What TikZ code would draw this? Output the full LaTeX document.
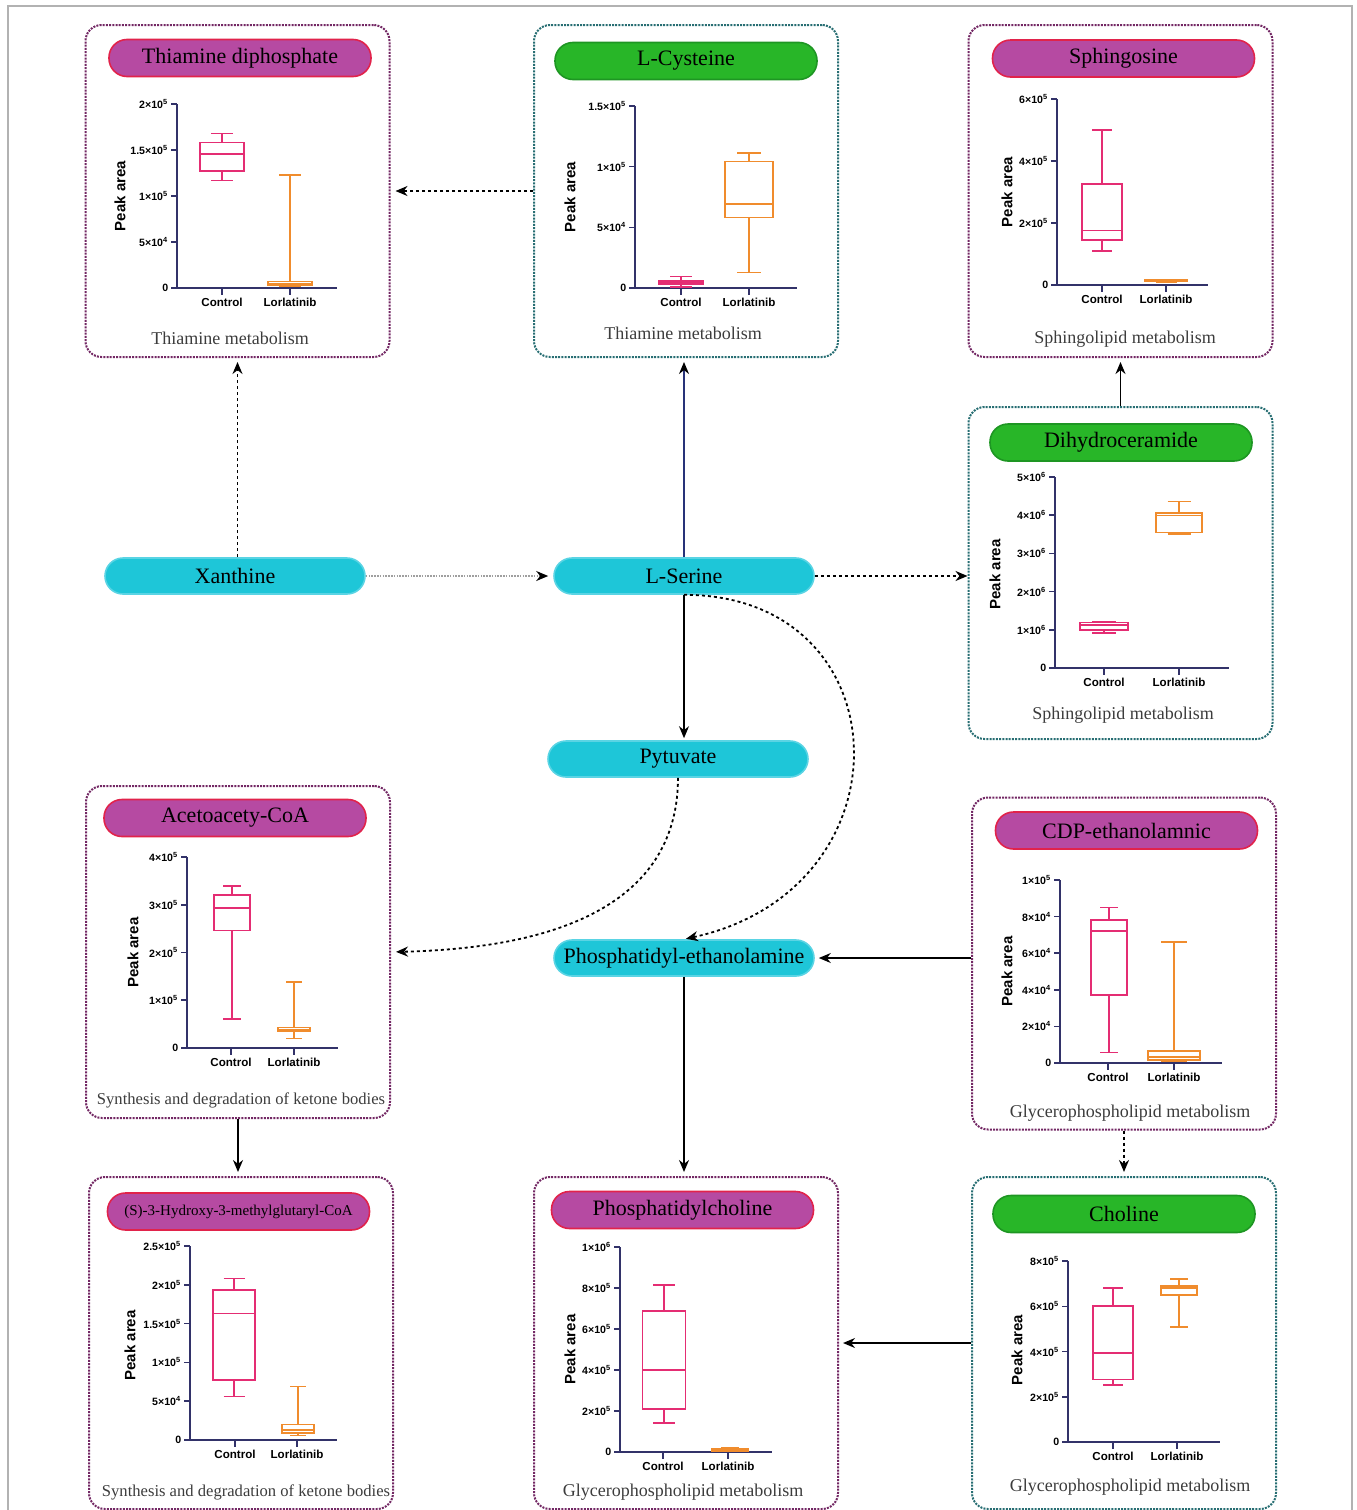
\documentclass[tikz,border=0pt]{standalone}
\usepackage{fontspec}
\setmainfont{Liberation Serif}
\newfontfamily\plotfont{Liberation Sans}
\usepackage{tikz}
\usetikzlibrary{arrows.meta}
\definecolor{magfill}{RGB}{182,74,162}
\definecolor{magline}{RGB}{225,35,75}
\definecolor{grnfill}{RGB}{40,182,40}
\definecolor{grnline}{RGB}{30,150,35}
\definecolor{cyanfill}{RGB}{30,198,216}
\definecolor{cyanline}{RGB}{90,212,228}
\definecolor{purpframe}{RGB}{115,40,100}
\definecolor{tealframe}{RGB}{40,110,115}
\definecolor{axiscol}{RGB}{50,50,105}
\definecolor{ctlcol}{RGB}{228,45,115}
\definecolor{lorcol}{RGB}{240,140,45}
\definecolor{subcol}{RGB}{60,60,60}
\definecolor{navyline}{RGB}{40,50,120}
\newcommand{\boxwhisk}[8]{\draw[#1] ({#2-#3},#5) rectangle ({#2+#3},#7) ({#2-#3},#6) -- ({#2+#3},#6) (#2,#7) -- (#2,#8) ({#2-#3/2},#8) -- ({#2+#3/2},#8) (#2,#5) -- (#2,#4) ({#2-#3/2},#4) -- ({#2+#3/2},#4);}

\begin{document}
\begin{tikzpicture}[x=0.5pt, y=-0.5pt,
  panelm/.style={draw=purpframe, dash pattern=on 1pt off 0.6pt, line width=1pt, rounded corners=8pt, minimum width=152pt, minimum height=166pt},
  panelg/.style={panelm, draw=tealframe},
  magpill/.style={draw=magline, fill=magfill, line width=0.8pt, rounded corners=9pt, minimum width=131pt, minimum height=18.5pt, font=\fontsize{11}{13}\selectfont},
  grnpill/.style={magpill, draw=grnline, fill=grnfill},
  metab/.style={draw=cyanline, fill=cyanfill, line width=0.8pt, rounded corners=9pt, minimum width=130pt, minimum height=18pt, font=\fontsize{11}{13}\selectfont},
  subtitle/.style={text=subcol, font=\fontsize{9}{11}\selectfont},
  ketone/.style={subtitle, font=\fontsize{8.3}{10}\selectfont},
  axline/.style={draw=axiscol, line width=0.8pt},
  ynum/.style={left, inner sep=1pt, text=black, font=\plotfont\bfseries\fontsize{5.3}{6}\selectfont},
  xcat/.style={below, inner sep=1.2pt, text=black, font=\plotfont\bfseries\fontsize{5.8}{7}\selectfont},
  ylab/.style={rotate=90, font=\plotfont\bfseries\fontsize{7.5}{9}\selectfont},
  ctl/.style={draw=ctlcol, line width=0.85pt},
  lor/.style={draw=lorcol, line width=0.85pt},
  flow/.style={-{Stealth[length=6pt,width=5pt,color=black]}, line width=0.7pt},
  dotflow/.style={flow, dash pattern=on 1.5pt off 1.5pt, line width=0.9pt},
]
\useasboundingbox (0,0) rectangle (1356,1510);
\draw[gray!60, line width=0.6pt] (8,1510) -- (8,6) -- (1352,6) -- (1352,1510);

\node[panelm] (p1) at (237.5,191) {};
\node[magpill] (t1) at (240,58) {Thiamine diphosphate};
\begin{scope}[shift={(177,288)}, y=46pt]
\draw[axline] (0,2) -- (0,0) -- (160,0);
\foreach \v/\t [count=\i] in {0/0, 0.5/5×10\textsuperscript{4}, 1/1×10\textsuperscript{5}, 1.5/1.5×10\textsuperscript{5}, 2/2×10\textsuperscript{5}}
  \draw[axline] (0,\v) -- ++(-3pt,0) node[ynum] (a1y\i) {\t};
\draw[axline] (45,0) -- ++(0,-3.5pt) node[xcat] (a1c) {Control};
\draw[axline] (113,0) -- ++(0,-3.5pt) node[xcat] (a1l) {Lorlatinib};
\node[ylab] (a1t) at (-57,1) {Peak area};
\boxwhisk{ctl}{45}{22}{1.17}{1.27}{1.46}{1.58}{1.68}
\boxwhisk{lor}{113}{22}{0.02}{0.03}{0.05}{0.07}{1.23}
\end{scope}
\node[subtitle] (s1) at (230,338) {Thiamine metabolism};

\node[panelg] (p2) at (686,191) {};
\node[grnpill] (t2) at (686,61) {L-Cysteine};
\begin{scope}[shift={(635,288)}, y=60.67pt]
\draw[axline] (0,1.5) -- (0,0) -- (162,0);
\foreach \v/\t [count=\i] in {0/0, 0.5/5×10\textsuperscript{4}, 1/1×10\textsuperscript{5}, 1.5/1.5×10\textsuperscript{5}}
  \draw[axline] (0,\v) -- ++(-3pt,0) node[ynum] (a2y\i) {\t};
\draw[axline] (46,0) -- ++(0,-3.5pt) node[xcat] (a2c) {Control};
\draw[axline] (114,0) -- ++(0,-3.5pt) node[xcat] (a2l) {Lorlatinib};
\node[ylab] (a2t) at (-65,0.75) {Peak area};
\boxwhisk{ctl}{46}{22}{0.01}{0.035}{0.05}{0.06}{0.095}
\boxwhisk{lor}{114}{24}{0.129}{0.581}{0.691}{1.042}{1.11}
\end{scope}
\node[subtitle] (s2) at (683,333) {Thiamine metabolism};

\node[panelm] (p3) at (1120.5,191) {};
\node[magpill] (t3) at (1123.5,58.5) {Sphingosine};
\begin{scope}[shift={(1057,285)}, y=15.5pt]
\draw[axline] (0,6) -- (0,0) -- (151,0);
\foreach \v/\t [count=\i] in {0/0, 2/2×10\textsuperscript{5}, 4/4×10\textsuperscript{5}, 6/6×10\textsuperscript{5}}
  \draw[axline] (0,\v) -- ++(-3pt,0) node[ynum] (a3y\i) {\t};
\draw[axline] (45,0) -- ++(0,-3.5pt) node[xcat] (a3c) {Control};
\draw[axline] (109,0) -- ++(0,-3.5pt) node[xcat] (a3l) {Lorlatinib};
\node[ylab] (a3t) at (-50,3) {Peak area};
\boxwhisk{ctl}{45}{20}{1.10}{1.45}{1.76}{3.26}{5.01}
\boxwhisk{lor}{109}{21}{0.1}{0.12}{0.14}{0.16}{0.17}
\end{scope}
\node[subtitle] (s3) at (1125,339) {Sphingolipid metabolism};

\node[panelg] (p4) at (1120.5,573) {};
\node[grnpill] (t4) at (1121,442.5) {Dihydroceramide};
\begin{scope}[shift={(1055,668)}, y=19.1pt]
\draw[axline] (0,5) -- (0,0) -- (174,0);
\foreach \v/\t [count=\i] in {0/0, 1/1×10\textsuperscript{6}, 2/2×10\textsuperscript{6}, 3/3×10\textsuperscript{6}, 4/4×10\textsuperscript{6}, 5/5×10\textsuperscript{6}}
  \draw[axline] (0,\v) -- ++(-3pt,0) node[ynum] (a4y\i) {\t};
\draw[axline] (49,0) -- ++(0,-3.5pt) node[xcat] (a4c) {Control};
\draw[axline] (124,0) -- ++(0,-3.5pt) node[xcat] (a4l) {Lorlatinib};
\node[ylab] (a4t) at (-60,2.45) {Peak area};
\boxwhisk{ctl}{49}{24}{0.92}{1.0}{1.12}{1.19}{1.2}
\boxwhisk{lor}{124}{23}{3.51}{3.55}{3.99}{4.06}{4.36}
\end{scope}
\node[subtitle] (s4) at (1123,715) {Sphingolipid metabolism};

\node[panelm] (p5) at (238,952) {};
\node[magpill] (t5) at (235,818) {Acetoacety-CoA};
\begin{scope}[shift={(187,1048)}, y=23.875pt]
\draw[axline] (0,4) -- (0,0) -- (151,0);
\foreach \v/\t [count=\i] in {0/0, 1/1×10\textsuperscript{5}, 2/2×10\textsuperscript{5}, 3/3×10\textsuperscript{5}, 4/4×10\textsuperscript{5}}
  \draw[axline] (0,\v) -- ++(-3pt,0) node[ynum] (a5y\i) {\t};
\draw[axline] (44,0) -- ++(0,-3.5pt) node[xcat] (a5c) {Control};
\draw[axline] (107,0) -- ++(0,-3.5pt) node[xcat] (a5l) {Lorlatinib};
\node[ylab] (a5t) at (-54,2) {Peak area};
\boxwhisk{ctl}{45}{18}{0.61}{2.46}{2.93}{3.21}{3.39}
\boxwhisk{lor}{107}{16}{0.2}{0.35}{0.38}{0.43}{1.38}
\end{scope}
\node[ketone] (s5) at (241,1100) {Synthesis and degradation of ketone bodies};

\node[panelm] (p6) at (1124,963.5) {};
\node[magpill] (t6) at (1126.5,830.5) {CDP-ethanolamnic};
\begin{scope}[shift={(1060,1063)}, y=9.15pt]
\draw[axline] (0,10) -- (0,0) -- (162,0);
\foreach \v/\t [count=\i] in {0/0, 2/2×10\textsuperscript{4}, 4/4×10\textsuperscript{4}, 6/6×10\textsuperscript{4}, 8/8×10\textsuperscript{4}, 10/1×10\textsuperscript{5}}
  \draw[axline] (0,\v) -- ++(-3pt,0) node[ynum] (a6y\i) {\t};
\draw[axline] (48,0) -- ++(0,-3.5pt) node[xcat] (a6c) {Control};
\draw[axline] (114,0) -- ++(0,-3.5pt) node[xcat] (a6l) {Lorlatinib};
\node[ylab] (a6t) at (-53,5) {Peak area};
\boxwhisk{ctl}{49}{18}{0.57}{3.7}{7.23}{7.81}{8.49}
\boxwhisk{lor}{114}{26}{0.1}{0.18}{0.33}{0.66}{6.62}
\end{scope}
\node[subtitle] (s6) at (1130,1113) {Glycerophospholipid metabolism};

\node[panelm] (p7) at (241,1343) {};
\node[magpill, font=\fontsize{7.5}{9}\selectfont] (t7) at (238.5,1211.5) {(S)-3-Hydroxy-3-methylglutaryl-CoA};
\begin{scope}[shift={(190,1440)}, y=38.8pt]
\draw[axline] (0,2.5) -- (0,0) -- (147,0);
\foreach \v/\t [count=\i] in {0/0, 0.5/5×10\textsuperscript{4}, 1/1×10\textsuperscript{5}, 1.5/1.5×10\textsuperscript{5}, 2/2×10\textsuperscript{5}, 2.5/2.5×10\textsuperscript{5}}
  \draw[axline] (0,\v) -- ++(-3pt,0) node[ynum] (a7y\i) {\t};
\draw[axline] (45,0) -- ++(0,-3.5pt) node[xcat] (a7c) {Control};
\draw[axline] (107,0) -- ++(0,-3.5pt) node[xcat] (a7l) {Lorlatinib};
\node[ylab] (a7t) at (-60,1.22) {Peak area};
\boxwhisk{ctl}{44}{21}{0.56}{0.77}{1.63}{1.93}{2.08}
\boxwhisk{lor}{108}{16}{0.06}{0.09}{0.13}{0.2}{0.69}
\end{scope}
\node[ketone] (s7) at (246,1492) {Synthesis and degradation of ketone bodies};

\node[panelm] (p8) at (686,1343) {};
\node[magpill] (t8) at (682.5,1210) {Phosphatidylcholine};
\begin{scope}[shift={(620,1452)}, y=10.25pt]
\draw[axline] (0,10) -- (0,0) -- (152,0);
\foreach \v/\t [count=\i] in {0/0, 2/2×10\textsuperscript{5}, 4/4×10\textsuperscript{5}, 6/6×10\textsuperscript{5}, 8/8×10\textsuperscript{5}, 10/1×10\textsuperscript{6}}
  \draw[axline] (0,\v) -- ++(-3pt,0) node[ynum] (a8y\i) {\t};
\draw[axline] (43,0) -- ++(0,-3.5pt) node[xcat] (a8c) {Control};
\draw[axline] (108,0) -- ++(0,-3.5pt) node[xcat] (a8l) {Lorlatinib};
\node[ylab] (a8t) at (-50,5) {Peak area};
\boxwhisk{ctl}{44}{21.5}{1.41}{2.09}{4.0}{6.87}{8.14}
\boxwhisk{lor}{110}{18}{0.05}{0.06}{0.1}{0.15}{0.19}
\end{scope}
\node[subtitle] (s8) at (683,1492) {Glycerophospholipid metabolism};

\node[panelg] (p9) at (1124,1343) {};
\node[grnpill] (t9) at (1124,1214) {Choline};
\begin{scope}[shift={(1068,1442)}, y=11.3pt]
\draw[axline] (0,8) -- (0,0) -- (152,0);
\foreach \v/\t [count=\i] in {0/0, 2/2×10\textsuperscript{5}, 4/4×10\textsuperscript{5}, 6/6×10\textsuperscript{5}, 8/8×10\textsuperscript{5}}
  \draw[axline] (0,\v) -- ++(-3pt,0) node[ynum] (a9y\i) {\t};
\draw[axline] (45,0) -- ++(0,-3.5pt) node[xcat] (a9c) {Control};
\draw[axline] (109,0) -- ++(0,-3.5pt) node[xcat] (a9l) {Lorlatinib};
\node[ylab] (a9t) at (-51,4.07) {Peak area};
\boxwhisk{ctl}{45}{20}{2.53}{2.77}{3.95}{6.01}{6.82}
\boxwhisk{lor}{111}{18}{5.08}{6.52}{6.8}{6.89}{7.2}
\end{scope}
\node[subtitle] (s9) at (1130,1487) {Glycerophospholipid metabolism};

\node[metab] (xan) at (235,576) {Xanthine};
\node[metab] (ser) at (684,576) {L-Serine};
\node[metab] (pyr) at (678,759) {Pytuvate};
\node[metab] (pe) at (684,958) {Phosphatidyl-ethanolamine};

\draw[dotflow, shorten >=2.5pt] (p2.west) -- (p1.east);
\draw[dotflow, shorten >=2pt] (p1.south |- xan.north) -- (p1.south);
\draw[flow, navyline, shorten >=2pt] (ser.north) -- (ser.north |- p2.south);
\draw[flow, gray!75, dash pattern=on 0.8pt off 0.6pt, line width=0.8pt, shorten >=2.5pt] (xan) -- (ser);
\draw[dotflow] (ser.east) -- (ser.east -| p4.west);
\draw[flow, shorten >=2pt] (p4.north) -- (p4.north |- p3.south);
\draw[flow, shorten >=1pt] (ser.south) -- (ser.south |- pyr.north);
\draw[dotflow, shorten >=1pt] (ser.south) .. controls +(220,0) and +(230,-50) .. (pe.north);
\draw[dotflow, shorten >=2.5pt] (pyr.south) .. controls +(0,100) and +(210,-5) .. (p5.east);
\draw[flow, shorten >=2pt] (p6.west |- pe) -- (pe);
\draw[flow, shorten >=2pt] (pe.south) -- (pe.south |- p8.north);
\draw[flow, shorten >=2pt] (p5.south) -- (p5.south |- p7.north);
\draw[dotflow, shorten >=2pt] (p6.south) -- (p6.south |- p9.north);
\draw[flow, shorten >=2pt] (p9.west) -- (p9.west -| p8.east);
\end{tikzpicture}
\end{document}
